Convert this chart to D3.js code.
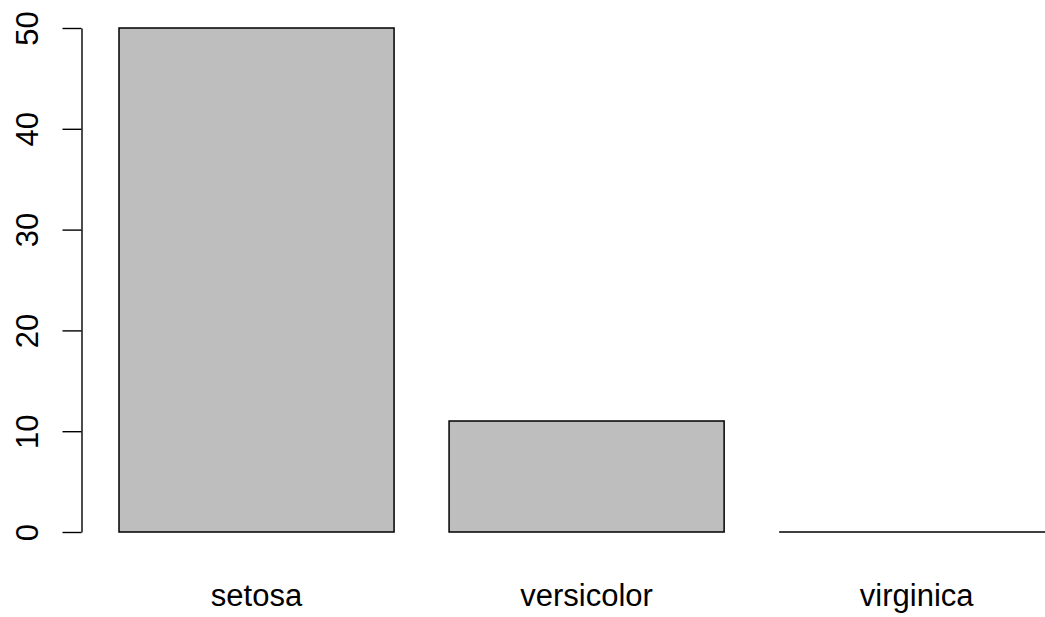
<!DOCTYPE html>
<html>
<head>
<meta charset="utf-8">
<script src="https://cdn.jsdelivr.net/npm/d3@7"></script>
<style>
  body { margin: 0; background: #fff; }
  svg { display: block; font-family: "Liberation Sans", Arial, sans-serif; }
</style>
</head>
<body>
<svg id="chart"></svg>
<script>
const species = ['setosa', 'versicolor', 'virginica'];
const counts = [50, 11, 0];
const yTicks = [0, 10, 20, 30, 40, 50];

const width = 1045, height = 617;

const svg = d3.select('#chart')
    .attr('width', width)
    .attr('height', height);

// R style barplot: width 1, space 0.2, xlim extended by 4%
const xScale = d3.scaleLinear()
    .domain([0.064, 3.736])
    .range([81.6, 1091.6]);

const yScale = d3.scaleLinear()
    .domain([0, 50])
    .range([532, 28]);

const bars = species.map((s, i) => ({name: s, value: counts[i], left: 0.2 + 1.2 * i}));

// paths so that a zero-height bar still shows its outline
svg.selectAll('path.bar')
    .data(bars)
    .join('path')
    .attr('class', 'bar')
    .attr('d', d => {
        const x0 = xScale(d.left), x1 = xScale(d.left + 1);
        const y0 = yScale(0), y1 = yScale(d.value);
        return `M${x0},${y0}L${x0},${y1}L${x1},${y1}L${x1},${y0}Z`;
    })
    .attr('fill', '#bebebe')
    .attr('stroke', '#000')
    .attr('stroke-width', 1.5);

svg.selectAll('text.xlab')
    .data(bars)
    .join('text')
    .attr('class', 'xlab')
    .attr('x', d => xScale(d.left + 0.5))
    .attr('y', 606)
    .attr('text-anchor', 'middle')
    .style('font-size', '31px')
    .text(d => d.name);

const yAxis = d3.axisLeft(yScale)
    .tickValues(yTicks)
    .tickSize(19)
    .tickSizeOuter(0)
    .tickFormat(d => d);

const yAxisG = svg.append('g')
    .attr('transform', 'translate(81.5,0)')
    .call(yAxis);

yAxisG.selectAll('path, line')
    .attr('stroke', '#000')
    .attr('stroke-width', 1.4);

yAxisG.selectAll('text')
    .attr('transform', 'rotate(-90)')
    .attr('x', 0)
    .attr('y', -44)
    .attr('dy', 0)
    .attr('text-anchor', 'middle')
    .attr('fill', '#000')
    .style('font-family', '"Liberation Sans", Arial, sans-serif')
    .style('font-size', '31px');
</script>
</body>
</html>
